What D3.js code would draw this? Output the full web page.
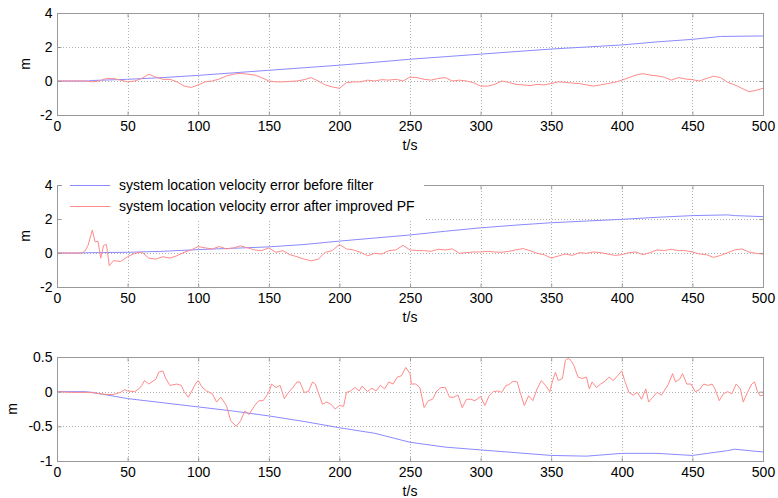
<!DOCTYPE html>
<html>
<head>
<meta charset="utf-8">
<script src="https://cdn.jsdelivr.net/npm/d3@7"></script>
<style>
  body { margin: 0; background: #fff; }
  text { font-family: Arial, "Liberation Sans", sans-serif; font-size: 14px; fill: #000; }
</style>
</head>
<body>
<svg id="chart" width="778" height="498"></svg>
<script>
// ---- data (t in seconds, value in m) ----
var xTicks = [0, 50, 100, 150, 200, 250, 300, 350, 400, 450, 500];
var yTicks1 = [-2, 0, 2, 4];
var yTicks2 = [-2, 0, 2, 4];
var yTicks3 = [-1, -0.5, 0, 0.5];

var legendLabels = ["system location velocity error before filter",
                    "system location velocity error after improved PF"];

var blue1 = [[0,0],[22,0],[25,0.03],[50,0.1],[75,0.2],[100,0.33],[125,0.48],[150,0.63],[175,0.78],
  [200,0.93],[225,1.1],[250,1.28],[275,1.43],[300,1.58],[325,1.73],[350,1.88],[375,2.0],[400,2.12],
  [425,2.3],[450,2.45],[470,2.62],[500,2.65]];

var red1 = [[0,0],[5,0],[10,0],[15,0],[20,0],[25,-0.05],[30,0],[35,0.15],[40,0.15],[45,0.05],[50,-0.05],
  [55,0],[60,0.15],[65,0.4],[70,0.23],[75,0.1],[80,0.1],[85,-0.05],[90,-0.3],[95,-0.38],[100,-0.23],
  [105,-0.05],[110,0],[115,0.12],[120,0.3],[125,0.4],[130,0.45],[135,0.4],[140,0.35],[145,0.2],[150,0],
  [155,-0.05],[160,-0.05],[165,-0.02],[170,0],[175,0.08],[180,0.2],[185,0],[190,-0.23],[195,-0.35],
  [200,-0.43],[205,-0.1],[210,-0.05],[215,-0.05],[220,0.05],[225,0],[230,0.08],[235,0.05],[240,0.1],
  [245,0],[250,0.23],[255,0.2],[260,0.1],[265,0.05],[270,0.15],[275,0.2],[280,0],[285,0.05],[290,0],
  [295,-0.1],[300,-0.3],[305,-0.3],[310,-0.2],[315,0],[320,-0.08],[325,-0.2],[330,-0.23],[335,-0.27],
  [340,-0.2],[345,-0.23],[350,-0.15],[355,-0.05],[360,-0.08],[365,-0.12],[370,-0.15],[375,-0.23],
  [380,-0.3],[385,-0.23],[390,-0.15],[395,-0.08],[400,0.05],[405,0.2],[410,0.35],[415,0.43],[420,0.35],
  [425,0.3],[430,0.23],[435,0.05],[440,0.2],[445,0.12],[450,0.08],[455,0],[460,0.15],[465,0.28],
  [470,0.2],[475,-0.08],[480,-0.23],[485,-0.43],[490,-0.63],[495,-0.55],[500,-0.43]];

var blue2 = [[0,0],[15,0],[25,0.02],[50,0.04],[75,0.1],[100,0.2],[125,0.28],[150,0.36],[175,0.5],
  [200,0.7],[225,0.88],[250,1.06],[275,1.28],[300,1.48],[325,1.64],[350,1.78],[375,1.88],[400,1.98],
  [425,2.1],[450,2.2],[475,2.24],[480,2.2],[500,2.14]];

var red2 = [[0,0],[18,0],[20,0.14],[22,0.45],[25,1.35],[27,0.65],[29,0.7],[31,-0.3],[33,0.45],[35,0.5],
  [37,-0.75],[40,-0.45],[45,-0.5],[50,-0.22],[55,-0.02],[60,0.05],[65,-0.3],[70,-0.36],[75,-0.22],
  [80,-0.3],[85,-0.16],[90,0.04],[95,0.18],[100,0.38],[105,0.3],[110,0.24],[115,0.38],[120,0.24],
  [125,0.3],[130,0.42],[135,0.3],[140,0.18],[145,0.14],[150,0.3],[155,0.04],[160,0.14],[165,-0.1],
  [170,-0.22],[175,-0.36],[180,-0.46],[185,-0.36],[190,0.04],[195,0.14],[200,0.5],[205,0.24],[210,0.18],
  [215,0.04],[220,-0.16],[225,-0.02],[230,-0.06],[235,0.14],[240,0.18],[245,0.45],[250,0.18],[255,0.14],
  [260,0.14],[265,0.1],[270,0.22],[275,0.18],[280,0.24],[285,-0.02],[290,0.02],[295,0.06],[300,0.06],
  [305,0.1],[310,0.06],[315,0.04],[320,0.1],[325,0.18],[330,0.26],[335,0.14],[340,-0.02],[345,-0.1],
  [350,-0.3],[355,-0.18],[360,-0.06],[365,-0.14],[370,0.02],[375,-0.02],[380,0.06],[385,0.02],
  [390,-0.06],[395,-0.14],[400,-0.1],[405,0.02],[410,0.06],[415,-0.1],[420,0.02],[425,0.18],[430,0.14],
  [435,0.22],[440,0.14],[445,0.14],[450,0.06],[455,-0.06],[460,-0.1],[465,-0.26],[470,-0.14],[475,0.02],
  [480,0.18],[485,0.24],[490,0.06],[495,-0.02],[500,-0.06]];

var blue3 = [[0,0],[20,0],[25,-0.01],[50,-0.1],[75,-0.16],[100,-0.22],[125,-0.28],[150,-0.35],
  [175,-0.43],[200,-0.52],[225,-0.6],[250,-0.73],[275,-0.8],[300,-0.84],[325,-0.88],[350,-0.92],
  [375,-0.93],[400,-0.89],[425,-0.89],[450,-0.92],[475,-0.85],[480,-0.83],[500,-0.87]];

var red3 = [[0,0],[10,-0.01],[20,-0.01],[25,-0.015],[30,-0.03],[35,-0.04],[40,-0.04],[45,-0.01],
  [48,0.03],[50,0.01],[55,0],[58,0.04],[60,0.09],[62,0.16],[65,0.11],[70,0.18],[72,0.28],[75,0.3],
  [77,0.19],[80,0.09],[85,0.11],[88,0.09],[90,0],[93,-0.08],[95,-0.01],[98,0.11],[100,0.16],[103,0.06],
  [106,0.01],[110,-0.03],[113,-0.15],[116,-0.08],[120,-0.2],[123,-0.42],[127,-0.5],[130,-0.42],
  [133,-0.28],[136,-0.33],[140,-0.2],[143,-0.13],[146,-0.13],[150,-0.01],[152,0.11],[155,0.06],
  [158,0.09],[161,-0.1],[164,-0.01],[167,0.06],[170,0.14],[172,0.14],[175,-0.01],[178,0],[181,0.14],
  [183,0.11],[185,-0.01],[188,-0.18],[191,-0.15],[194,-0.18],[197,-0.25],[200,-0.2],[203,-0.21],
  [205,-0.01],[208,0.01],[211,0.06],[214,0.01],[216,0.08],[220,0],[223,0.05],[226,0.01],[229,0.09],
  [232,0.04],[235,0.14],[238,0.11],[241,0.21],[244,0.23],[247,0.35],[250,0.26],[251,0.11],[254,0.11],
  [257,0.06],[260,-0.23],[263,-0.13],[266,-0.11],[269,0.01],[272,0.06],[275,0.06],[278,-0.08],
  [281,-0.08],[284,-0.05],[287,-0.23],[290,-0.11],[293,-0.11],[296,-0.13],[300,-0.07],[303,-0.2],
  [306,-0.06],[309,0],[312,0.01],[315,-0.01],[318,0.09],[320,0.1],[323,0.15],[326,0.14],[328,-0.01],
  [331,-0.2],[334,-0.06],[337,-0.13],[340,0.04],[343,0.16],[346,0.09],[349,0],[351,0.16],[353,0.28],
  [355,0.16],[358,0.19],[360,0.45],[362,0.48],[364,0.45],[366,0.38],[369,0.21],[372,0.19],[375,0.21],
  [377,0.04],[379,0.14],[382,0.06],[385,0.11],[388,0.15],[391,0.21],[394,0.16],[397,0.23],[400,0.3],
  [402,0.16],[405,-0.01],[408,-0.05],[411,-0.01],[414,-0.11],[417,0.04],[419,-0.15],[422,-0.08],
  [425,-0.01],[428,-0.05],[430,0.01],[433,0.11],[436,0.26],[438,0.14],[441,0.18],[443,0.26],[446,0.11],
  [449,0.11],[452,0],[455,0.03],[458,0.11],[461,0.09],[464,0.11],[466,0.04],[469,-0.13],[472,-0.03],
  [475,0],[478,-0.03],[481,0.11],[484,0.04],[486,-0.15],[489,-0.01],[492,0.11],[494,0.14],[496,0.01],
  [498,-0.06],[500,-0.05]];

var blueColor = "#8a8aff";
var redColor = "#ff8a8a";

var svg = d3.select("#chart");
var left = 57, right = 763;

function drawPanel(top, bottom, yDomain, yTicks, blue, red, labelX){
  var x = d3.scaleLinear().domain([0, 500]).range([left, right]);
  var y = d3.scaleLinear().domain(yDomain).range([bottom, top]);
  var g = svg.append("g");

  // dotted grid
  g.selectAll(".vgrid").data(xTicks.slice(1, -1))
    .enter().append("line")
      .attr("x1", d => Math.round(x(d)) + 0.5)
      .attr("x2", d => Math.round(x(d)) + 0.5)
      .attr("y1", top).attr("y2", bottom)
      .style("stroke", "#b0b0b0")
      .style("stroke-dasharray", "1,2");
  g.selectAll(".hgrid").data(yTicks.slice(1, -1))
    .enter().append("line")
      .attr("x1", left).attr("x2", right)
      .attr("y1", d => Math.round(y(d)) + 0.5)
      .attr("y2", d => Math.round(y(d)) + 0.5)
      .style("stroke", "#b0b0b0")
      .style("stroke-dasharray", "1,2");

  // the two series
  var line = d3.line().x(d => x(d[0])).y(d => y(d[1]));
  g.append("path").datum(blue).attr("d", line)
    .style("fill", "none").style("stroke", blueColor).style("stroke-width", 1);
  g.append("path").datum(red).attr("d", line)
    .style("fill", "none").style("stroke", redColor).style("stroke-width", 1);

  // box
  g.append("rect")
    .attr("x", left + 0.5).attr("y", top + 0.5)
    .attr("width", right - left).attr("height", bottom - top)
    .style("fill", "none").style("stroke", "#999");

  // axes, ticks pointing inward
  var fmt = d => String(d);
  var ax = g.append("g").attr("transform", "translate(0," + (bottom + 0.5) + ")")
    .call(d3.axisBottom(x).tickValues(xTicks).tickSize(-4).tickPadding(6).tickFormat(fmt));
  var ay = g.append("g").attr("transform", "translate(" + (left + 0.5) + ",0)")
    .call(d3.axisLeft(y).tickValues(yTicks).tickSize(-4).tickPadding(5).tickFormat(fmt));
  var at = g.append("g").attr("transform", "translate(0," + (top + 0.5) + ")")
    .call(d3.axisTop(x).tickValues(xTicks).tickSize(-4).tickFormat(""));
  var ar = g.append("g").attr("transform", "translate(" + (right + 0.5) + ",0)")
    .call(d3.axisRight(y).tickValues(yTicks).tickSize(-4).tickFormat(""));
  [ax, ay, at, ar].forEach(function(a){
    a.select(".domain").remove();
    a.selectAll("line").style("stroke", "#999");
    a.selectAll("text").style("fill", "#000").style("font-size", "14px")
      .style("font-family", "Arial, 'Liberation Sans', sans-serif");
  });

  // labels
  g.append("text")
    .text("t/s")
    .attr("x", (left + right) / 2)
    .attr("y", bottom + 35)
    .style("text-anchor", "middle");
  g.append("text")
    .text("m")
    .attr("transform", "translate(" + labelX + "," + ((top + bottom) / 2) + ") rotate(-90)")
    .attr("dy", "0.35em")
    .style("text-anchor", "middle");
  return {x: x, y: y, g: g};
}

drawPanel(13, 115, [-2, 4], yTicks1, blue1, red1, 25);
var p2 = drawPanel(185, 287, [-2, 4], yTicks2, blue2, red2, 25);
drawPanel(357, 461, [-1, 0.5], yTicks3, blue3, red3, 12);

// legend in the middle panel
var leg = p2.g.append("g");
leg.append("rect")
  .attr("x", 62).attr("y", 177)
  .attr("width", 362).attr("height", 43)
  .style("fill", "#fff");
legendLabels.forEach(function(d, i){
  var yy = 185 + i * 21;
  leg.append("line")
    .attr("x1", 70).attr("x2", 110)
    .attr("y1", yy + 0.5).attr("y2", yy + 0.5)
    .style("stroke", i == 0 ? blueColor : redColor);
  leg.append("text")
    .text(d)
    .attr("x", 119).attr("y", yy)
    .attr("dy", "0.35em");
});
</script>
</body>
</html>
